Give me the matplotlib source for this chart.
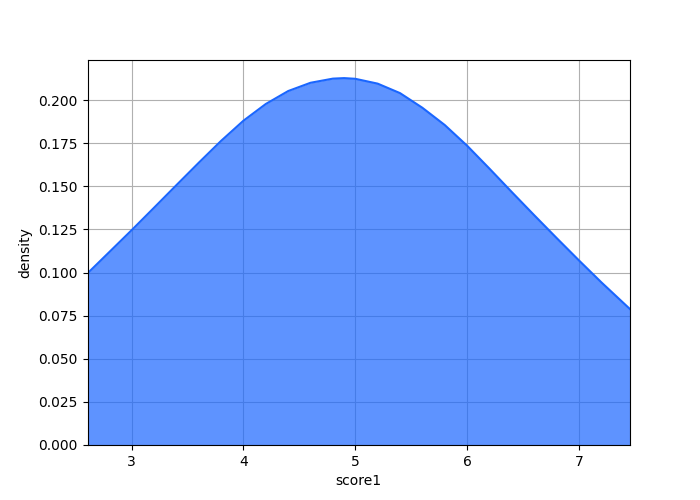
import matplotlib
matplotlib.use("Agg")
import matplotlib.pyplot as plt

# density curve
score1 = [2.606, 2.8, 3.0, 3.2, 3.4, 3.6, 3.8, 4.0, 4.2, 4.4, 4.6, 4.8, 4.9,
          5.0, 5.2, 5.4, 5.6, 5.8, 6.0, 6.2, 6.4, 6.6, 6.8, 7.0, 7.2, 7.456]
density = [0.0995, 0.1118, 0.1245, 0.1375, 0.1506, 0.1636, 0.1763, 0.1880,
           0.1977, 0.2052, 0.2100, 0.2124, 0.2127, 0.2123, 0.2095, 0.2040,
           0.1955, 0.1855, 0.1735, 0.1602, 0.1466, 0.1332, 0.1200, 0.1070,
           0.0943, 0.0788]

color = "#1a66ff"

fig, ax = plt.subplots(figsize=(7, 5), dpi=100)
ax.set_axisbelow(True)
ax.grid(True)
ax.fill_between(score1, density, color=color, alpha=0.7, linewidth=0)
ax.plot(score1, density, color=color, linewidth=1.5)

ax.set_xlim(score1[0], score1[-1])
ax.set_ylim(0, 0.2232)
ax.set_xlabel("score1")
ax.set_ylabel("density")

fig.savefig("out.png")
